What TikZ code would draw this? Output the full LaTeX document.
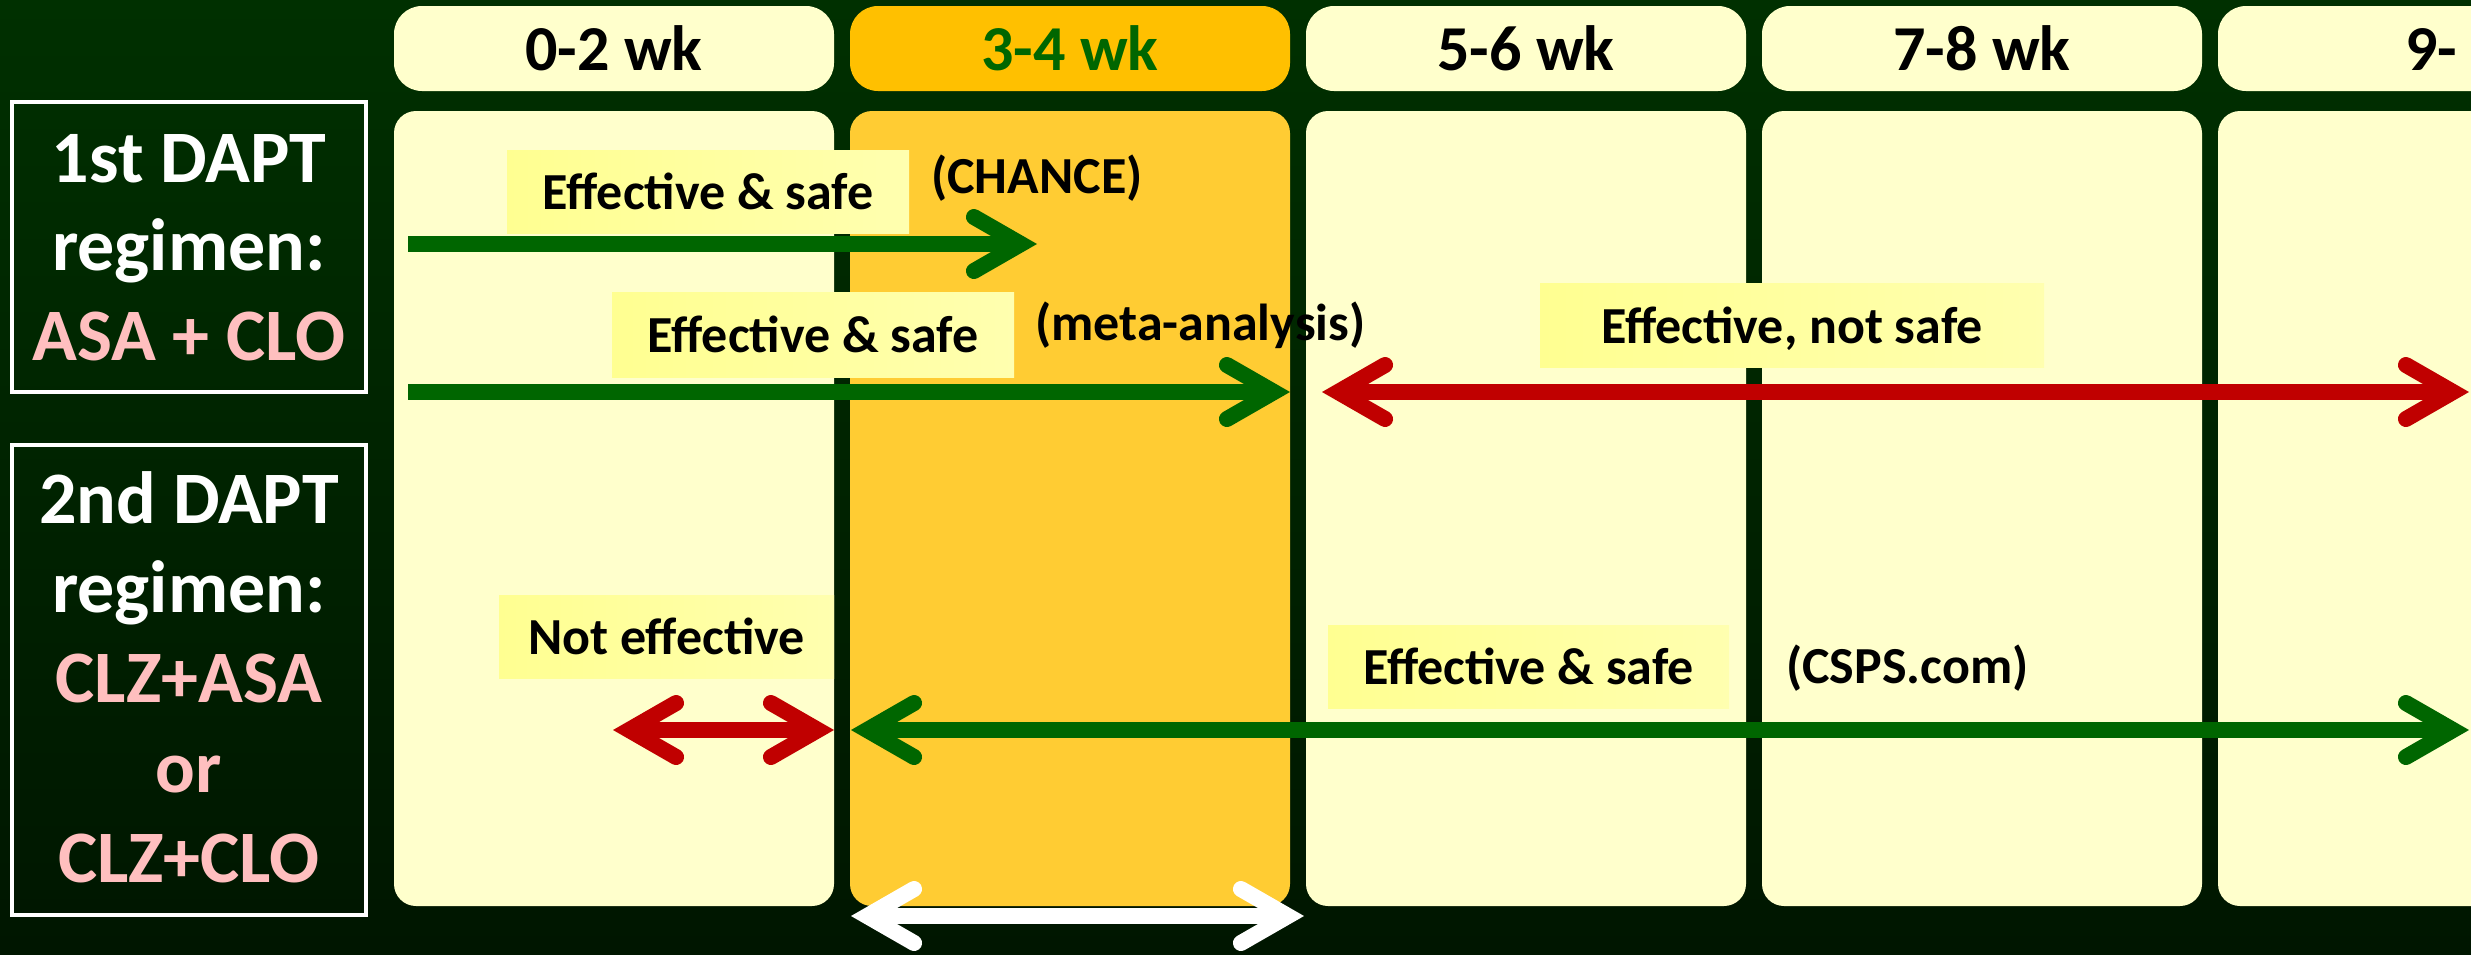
\documentclass[tikz,border=0pt]{standalone}
\usepackage{fontspec}
\setmainfont{Carlito}
\usetikzlibrary{arrows.meta}
\definecolor{bgtop}{RGB}{0,48,0}
\definecolor{bgbot}{RGB}{0,22,0}
\definecolor{cream}{RGB}{255,255,204}
\definecolor{gold}{RGB}{255,192,0}
\definecolor{goldbody}{RGB}{255,204,51}
\definecolor{lblleft}{RGB}{255,255,145}
\definecolor{lblright}{RGB}{255,255,175}
\definecolor{agreen}{RGB}{0,102,0}
\definecolor{ared}{RGB}{192,0,0}
\definecolor{pinktxt}{RGB}{255,191,191}
\tikzset{barb/.tip={Straight Barb[length=47pt,width=54pt,line cap=round,line join=miter]}}
\begin{document}
\begin{tikzpicture}[x=1pt,y=-1pt,
  hdr/.style={fill=cream, rounded corners=28pt, minimum width=440pt, minimum height=85pt, inner sep=0pt,
    font=\fontsize{64}{70}\selectfont\bfseries, text height=43pt, text depth=0pt},
  body/.style={fill=cream, rounded corners=22pt, minimum width=440pt, minimum height=795pt, inner sep=0pt},
  regbox/.style={draw=white, line width=4pt, minimum width=354pt, inner sep=0pt},
  regtxt/.style={anchor=base, inner sep=0pt, font=\fontsize{74}{80}\selectfont\bfseries},
  lbl/.style={left color=lblleft, right color=lblright, inner sep=0pt, text height=36pt, text depth=0pt,
    font=\fontsize{52}{60}\selectfont\bfseries},
  note/.style={anchor=base west, inner sep=0pt, font=\fontsize{52}{60}\selectfont\bfseries},
  arrowline/.style={line width=16pt}
]
\clip (0,0) rectangle (2471,954);
\shade[top color=bgtop, bottom color=bgbot] (0,0) rectangle (2471,954);

% left row headers
\node[regbox, minimum height=290pt] (r1) at (189,247) {};
\node[regtxt, text=white] (r1a) at (189,182) {1st DAPT};
\node[regtxt, text=white] (r1b) at (189,270) {regimen:};
\node[regtxt, text=pinktxt] (r1c) at (189,360) {ASA + CLO};

\node[regbox, minimum height=470pt] (r2) at (189,680) {};
\node[regtxt, text=white] (r2a) at (189,523) {2nd DAPT};
\node[regtxt, text=white] (r2b) at (189,612) {regimen:};
\node[regtxt, text=pinktxt] (r2c) at (189,702) {CLZ+ASA};
\node[regtxt, text=pinktxt] (r2d) at (189,792) {or};
\node[regtxt, text=pinktxt] (r2e) at (189,882) {CLZ+CLO};

% column headers
\node[hdr] (h1) at (614,48.5) {0-2 wk};
\node[hdr, fill=gold, text=agreen] (h2) at (1070,48.5) {3-4 wk};
\node[hdr] (h3) at (1526,48.5) {5-6 wk};
\node[hdr] (h4) at (1982,48.5) {7-8 wk};
\node[hdr] (h5) at (2438,48.5) {};
\node[note, font=\fontsize{64}{70}\selectfont\bfseries] (h5t) at (2405,70) {9-};

% column bodies
\node[body] (b1) at (614,508.5) {};
\node[body, fill=goldbody] (b2) at (1070,508.5) {};
\node[body] (b3) at (1526,508.5) {};
\node[body] (b4) at (1982,508.5) {};
\node[body] (b5) at (2438,508.5) {};

% labels
\node[lbl, minimum width=402pt, minimum height=83pt] (l1) at (708,191.5) {Effective \& safe};
\node[lbl, minimum width=402pt, minimum height=85pt] (l2) at (813,334.5) {Effective \& safe};
\node[lbl, minimum width=504pt, minimum height=84pt] (l3) at (1792,325) {Effective, not safe};
\node[lbl, minimum width=335pt, minimum height=83pt] (l4) at (666.5,636.5) {Not effective};
\node[lbl, minimum width=401pt, minimum height=83pt] (l5) at (1528.5,666.5) {Effective \& safe};

\node[note] (n1) at (931,193) {(CHANCE)};
\node[note] (n2) at (1035,340) {(meta-analysis)};
\node[note] (n3) at (1786,683) {(CSPS.com)};

% arrow end points
\coordinate (a1s) at (408,244);  \coordinate (a1e) at (1037,244);
\coordinate (a2s) at (408,392);  \coordinate (a2e) at (1290,392);
\coordinate (a3s) at (1322,392); \coordinate (a3e) at (2469,392);
\coordinate (a4s) at (613,730);  \coordinate (a4e) at (834,730);
\coordinate (a5s) at (851,730);  \coordinate (a5e) at (2469,730);
\coordinate (a6s) at (851,916);  \coordinate (a6e) at (1304,916);

\draw[arrowline, agreen, -barb] (a1s) -- (a1e);
\draw[arrowline, agreen, -barb] (a2s) -- (a2e);
\draw[arrowline, ared, barb-barb] (a3s) -- (a3e);
\draw[arrowline, ared, barb-barb] (a4s) -- (a4e);
\draw[arrowline, agreen, barb-barb] (a5s) -- (a5e);
\draw[arrowline, white, barb-barb] (a6s) -- (a6e);
\end{tikzpicture}
\end{document}
